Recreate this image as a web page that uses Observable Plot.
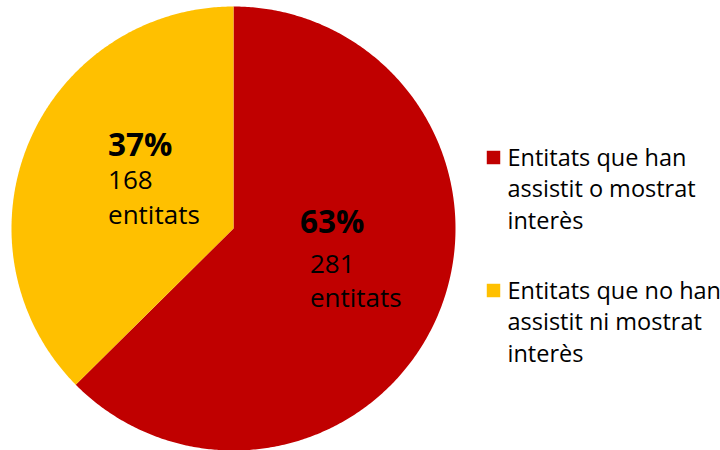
<!DOCTYPE html>
<html><head><meta charset="utf-8">
<script src="https://cdn.jsdelivr.net/npm/d3@7"></script>
<script src="https://cdn.jsdelivr.net/npm/@observablehq/plot@0.6"></script>
<style>body{margin:0;background:#fff}#chart{width:720px;height:450px}</style>
</head><body><div id="chart"></div>
<script>
// ---- data ----
const categories = ["Entitats que han assistit o mostrat interès", "Entitats que no han assistit ni mostrat interès"];
const counts = [281, 168];
const percentLabels = ["63%", "37%"];
const countLabels = ["281\nentitats", "168\nentitats"];
const legendLabels = ["Entitats que han\nassistit o mostrat\ninterès", "Entitats que no han\nassistit ni mostrat\ninterès"];
const colors = ["#C00000", "#FFC000"];

// ---- layout (pixels) ----
const W = 720, H = 450, cx = 233, cy = 228, R = 222;
const font = "'Open Sans', sans-serif";
const pctSize = 31.5, cntSize = 26, cntLine = 34.5;
const labelOffsets = [
  {pdx: -36, pdy: -38, cdx: -26, cdy: 36},
  {pdx: -23, pdy: -30, cdx: -23, cdy: 38}
];
const legendLeft = 486, legendLastBaseline = 228, legendGap = 133, legendFont = 23.5, legendLine = 31.5;
const px = p => (p - cx) / R, py = p => (cy - p) / R;

const rows = categories.map((c, i) => ({key: c, count: counts[i], pct: percentLabels[i], lab: countLabels[i], leg: legendLabels[i]}));
const arcs = d3.pie().sort(null).value(d => d.count)(rows);

const pts = [];
arcs.forEach(a => {
  pts.push({key: a.data.key, x: 0, y: 0});
  const n = Math.max(2, Math.ceil((a.endAngle - a.startAngle) / (Math.PI / 360)));
  for (let k = 0; k <= n; k++) {
    const t = a.startAngle + (a.endAngle - a.startAngle) * k / n;
    pts.push({key: a.data.key, x: Math.sin(t), y: Math.cos(t)});
  }
  pts.push({key: a.data.key, x: 0, y: 0});
});

const marks = [
  Plot.line(pts, {x: "x", y: "y", z: "key", fill: "key", stroke: "none", curve: "linear"})
];
arcs.forEach((a, i) => {
  const mid = (a.startAngle + a.endAngle) / 2;
  const d = [{x: 0.5 * Math.sin(mid), y: 0.5 * Math.cos(mid), pct: a.data.pct, lab: a.data.lab}];
  const o = labelOffsets[i];
  marks.push(Plot.text(d, {x: "x", y: "y", text: "pct", textAnchor: "start", lineAnchor: "bottom",
    fontSize: pctSize, fontWeight: "bold", fontFamily: font, fill: "#000", dx: o.pdx, dy: o.pdy}));
  marks.push(Plot.text(d, {x: "x", y: "y", text: "lab", textAnchor: "start", lineAnchor: "bottom",
    fontSize: cntSize, lineHeight: cntLine / cntSize, fontFamily: font, fill: "#000", dx: o.cdx, dy: o.cdy}));
});
const legRows = rows.map((r, i) => ({
  key: r.key, leg: r.leg,
  sx: px(legendLeft + 7), sy: py(legendLastBaseline - 2 * legendLine + i * legendGap - 8),
  tx: px(legendLeft + 21), ty: py(legendLastBaseline + i * legendGap)
}));
marks.push(Plot.dot(legRows, {x: "sx", y: "sy", symbol: "square", fill: "key", stroke: "none", r: 7.6}));
marks.push(Plot.text(legRows, {x: "tx", y: "ty", text: "leg", textAnchor: "start", lineAnchor: "bottom",
  fontSize: legendFont, lineHeight: legendLine / legendFont, fontFamily: font, fill: "#000"}));

const chart = Plot.plot({
  width: W, height: H, margin: 0,
  x: {domain: [px(0), px(W)], axis: null},
  y: {domain: [py(H), py(0)], axis: null},
  color: {domain: categories, range: colors},
  style: {background: "#fff", overflow: "visible"},
  marks
});
document.getElementById("chart").appendChild(chart);
</script></body></html>
